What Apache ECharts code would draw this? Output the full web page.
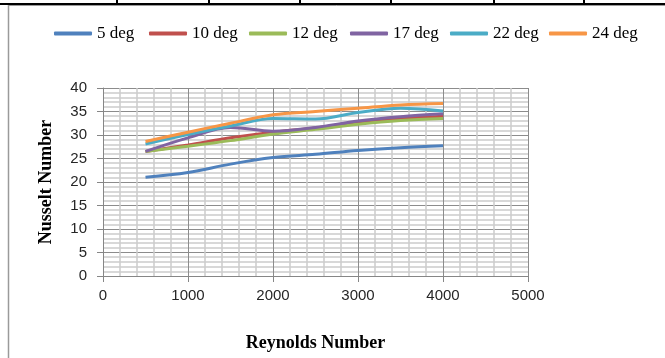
<!DOCTYPE html>
<html>
<head>
<meta charset="utf-8">
<script src="https://cdn.jsdelivr.net/npm/echarts@6/dist/echarts.min.js"></script>
<style>
html,body{margin:0;padding:0;background:#fff;}
#c{width:665px;height:358px;}
</style>
</head>
<body>
<div id="c"></div>
<script>
var reynolds = [500, 1000, 1500, 2000, 2500, 3000, 3500, 4000];
var seriesNames = ['5 deg', '10 deg', '12 deg', '17 deg', '22 deg', '24 deg'];
var deg5  = [21.0, 22.0, 23.8, 25.2, 25.9, 26.7, 27.3, 27.7];
var deg10 = [26.5, 27.9, 29.4, 30.6, 31.5, 32.7, 33.5, 34.0];
var deg12 = [26.5, 27.6, 28.8, 30.2, 31.2, 32.3, 33.1, 33.5];
var deg17 = [26.5, 29.4, 31.6, 30.8, 31.6, 33.0, 33.9, 34.5];
var deg22 = [28.1, 30.1, 31.9, 33.5, 33.4, 34.8, 35.7, 35.1];
var deg24 = [28.6, 30.6, 32.5, 34.3, 35.0, 35.7, 36.4, 36.7];
var xTicks = [0, 1000, 2000, 3000, 4000, 5000];
var yTicks = [0, 5, 10, 15, 20, 25, 30, 35, 40];

var allValues = [deg5, deg10, deg12, deg17, deg22, deg24];
var colors = ['#4F81BD', '#C0504D', '#9BBB59', '#8064A2', '#4BACC6', '#F79646'];
var legendLeft = [54, 149, 249, 350, 450, 549];

var chart = echarts.init(document.getElementById('c'), null, {renderer: 'canvas'});

var series = seriesNames.map(function (n, i) {
  return {
    name: n,
    type: 'line',
    smooth: 0.35,
    showSymbol: false,
    symbol: 'none',
    data: reynolds.map(function (x, j) { return [x, allValues[i][j]]; }),
    lineStyle: {width: 3, color: colors[i]},
    itemStyle: {color: colors[i]},
    z: 3 + i
  };
});

var legends = seriesNames.map(function (n, i) {
  return {
    data: [n],
    left: legendLeft[i],
    top: 25,
    icon: 'roundRect',
    itemWidth: 38,
    itemHeight: 4,
    itemGap: 0,
    textStyle: {fontFamily: 'Liberation Serif', fontSize: 17, color: '#000'},
    selectedMode: false,
    padding: 0
  };
});

chart.setOption({
  animation: false,
  backgroundColor: '#fff',
  color: colors,
  legend: legends,
  grid: {left: 103, right: 137, top: 88, bottom: 82, containLabel: false},
  xAxis: {
    type: 'value',
    min: xTicks[0],
    max: xTicks[xTicks.length - 1],
    interval: 1000,
    name: 'Reynolds Number',
    nameLocation: 'middle',
    nameGap: 58,
    nameTextStyle: {fontFamily: 'Liberation Serif', fontWeight: 'bold', fontSize: 18, color: '#000'},
    axisLine: {show: true, lineStyle: {color: '#868686', width: 1}},
    axisTick: {show: true, inside: false, length: 6, lineStyle: {color: '#868686'}},
    axisLabel: {margin: 12, fontFamily: 'Liberation Sans', fontSize: 15, color: '#262626',
      formatter: function (v) { return String(v); }},
    splitLine: {show: true, lineStyle: {color: '#8c8c8c', width: 1}},
    minorTick: {show: false, splitNumber: 5},
    minorSplitLine: {show: true, lineStyle: {color: '#cccccc', width: 1.5}}
  },
  yAxis: {
    type: 'value',
    min: yTicks[0],
    max: yTicks[yTicks.length - 1],
    interval: 5,
    name: 'Nusselt Number',
    nameLocation: 'middle',
    nameGap: 48,
    nameRotate: 90,
    nameTextStyle: {fontFamily: 'Liberation Serif', fontWeight: 'bold', fontSize: 18, color: '#000'},
    axisLine: {show: true, lineStyle: {color: '#868686', width: 1}},
    axisTick: {show: true, inside: false, length: 6, lineStyle: {color: '#868686'}},
    axisLabel: {margin: 16, fontFamily: 'Liberation Sans', fontSize: 15, color: '#262626',
      formatter: function (v) { return String(v); }},
    splitLine: {show: true, lineStyle: {color: '#8c8c8c', width: 1}},
    minorTick: {show: false, splitNumber: 5},
    minorSplitLine: {show: true, lineStyle: {color: '#cccccc', width: 1.5}}
  },
  graphic: [
    {type: 'rect', shape: {x: 0, y: 3, width: 665, height: 2}, style: {fill: '#000'}, silent: true},
    {type: 'line', shape: {x1: 8.5, y1: 5.5, x2: 665, y2: 5.5}, style: {stroke: '#9a9a9a', lineWidth: 1}, silent: true},
    {type: 'line', shape: {x1: 8.5, y1: 5, x2: 8.5, y2: 358}, style: {stroke: '#9a9a9a', lineWidth: 1.5}, silent: true},
    {type: 'rect', shape: {x: 116, y: 0, width: 2, height: 4}, style: {fill: '#000'}, silent: true},
    {type: 'rect', shape: {x: 208, y: 0, width: 2, height: 4}, style: {fill: '#000'}, silent: true},
    {type: 'rect', shape: {x: 299, y: 0, width: 2, height: 4}, style: {fill: '#000'}, silent: true},
    {type: 'rect', shape: {x: 390, y: 0, width: 2, height: 4}, style: {fill: '#000'}, silent: true},
    {type: 'rect', shape: {x: 493, y: 0, width: 2, height: 4}, style: {fill: '#000'}, silent: true},
    {type: 'rect', shape: {x: 583, y: 0, width: 2, height: 4}, style: {fill: '#000'}, silent: true}
  ],
  series: series
});
</script>
</body>
</html>
